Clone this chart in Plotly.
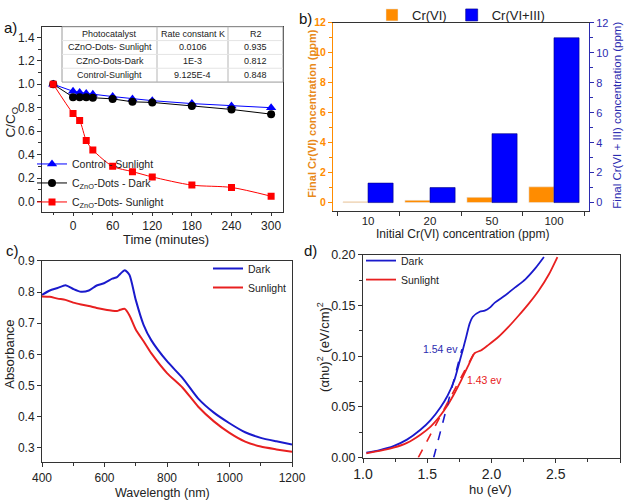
import plotly.graph_objects as go

W, H = 625, 502

# ---------------- Panel a data ----------------
time_min = [-30, 0, 10, 20, 30, 60, 90, 120, 180, 240, 300]
control_sun = [1.0, 0.94, 0.93, 0.92, 0.915, 0.895, 0.875, 0.86, 0.835, 0.815, 0.80]
dots_dark = [1.0, 0.89, 0.89, 0.89, 0.885, 0.875, 0.85, 0.845, 0.815, 0.785, 0.745]
dots_sun = [1.0, 0.75, 0.69, 0.52, 0.44, 0.30, 0.255, 0.21, 0.14, 0.12, 0.045]

table_header = ["Photocatalyst", "Rate constant K", "R2"]
table_catalyst = ["CZnO-Dots- Sunlight", "CZnO-Dots-Dark", "Control-Sunlight"]
table_k = ["0.0106", "1E-3", "9.125E-4"]
table_r2 = ["0.935", "0.812", "0.848"]

# ---------------- Panel b data ----------------
initial_conc = ["10", "20", "50", "100"]
cr6_final = [0.05, 0.15, 0.35, 1.05]
cr63_final = [1.3, 1.0, 4.6, 11.0]

# ---------------- Panel c data ----------------
wavelength = [400, 425, 450, 475, 500, 525, 550, 575, 600, 625, 640, 650, 665, 680,
              700, 725, 750, 800, 850, 900, 950, 1000, 1050, 1100, 1150, 1200]
abs_dark = [0.791, 0.805, 0.813, 0.822, 0.810, 0.801, 0.805, 0.821, 0.829, 0.843, 0.848,
            0.858, 0.870, 0.855, 0.775, 0.695, 0.645, 0.578, 0.524, 0.458, 0.413,
            0.379, 0.350, 0.332, 0.321, 0.311]
abs_sun = [0.786, 0.785, 0.779, 0.775, 0.766, 0.760, 0.755, 0.749, 0.744, 0.740, 0.739,
           0.743, 0.746, 0.725, 0.680, 0.642, 0.603, 0.540, 0.493, 0.432, 0.385,
           0.348, 0.320, 0.304, 0.295, 0.287]

# ---------------- Panel d data ----------------
hv_dark = [1.026, 1.13, 1.237, 1.342, 1.447, 1.526, 1.605, 1.658, 1.71, 1.75, 1.776,
           1.803, 1.829, 1.855, 1.908, 1.947, 1.987, 2.026, 2.105, 2.184, 2.263,
           2.342, 2.408]
tauc_dark = [0.0048, 0.0074, 0.0113, 0.0177, 0.0274, 0.037, 0.050, 0.061, 0.076, 0.094,
             0.106, 0.119, 0.132, 0.139, 0.144, 0.145, 0.148, 0.153, 0.160, 0.168,
             0.176, 0.187, 0.198]
hv_sun = [1.026, 1.13, 1.237, 1.342, 1.447, 1.526, 1.605, 1.658, 1.71, 1.763, 1.816,
          1.868, 1.921, 1.974, 2.053, 2.132, 2.21, 2.29, 2.368, 2.447, 2.513]
tauc_sun = [0.0042, 0.0065, 0.0097, 0.0145, 0.0226, 0.0306, 0.042, 0.0516, 0.063, 0.076,
            0.090, 0.103, 0.106, 0.111, 0.119, 0.129, 0.140, 0.152, 0.165, 0.181, 0.198]
fit_dark_x = [1.55, 1.77]
fit_dark_y = [0.0, 0.107]
fit_sun_x = [1.43, 1.86]
fit_sun_y = [0.0, 0.102]
gap_labels = ["1.54 ev", "1.43 ev"]


def px_x(p):
    return p / W


def px_y(p):
    return 1 - p / H


FONT = "Arial, Liberation Sans, sans-serif"
BLUE = "#0000FF"
RED = "#FF0000"
ORANGE = "#FF8C00"
DBLUE = "#2b2bb0"
TXT = "#222222"

fig = go.Figure()

# Panel a traces
fig.add_trace(go.Scatter(x=time_min, y=control_sun, mode="lines+markers", name="Control - Sunlight",
                         line=dict(color=BLUE, width=1),
                         marker=dict(symbol="triangle-up", size=9, color=BLUE),
                         xaxis="x", yaxis="y", legend="legend"))
fig.add_trace(go.Scatter(x=time_min, y=dots_dark, mode="lines+markers",
                         name="C<sub>ZnO</sub>-Dots - Dark",
                         line=dict(color="black", width=1),
                         marker=dict(symbol="circle", size=8, color="black"),
                         xaxis="x", yaxis="y", legend="legend"))
fig.add_trace(go.Scatter(x=time_min, y=dots_sun, mode="lines+markers",
                         name="C<sub>ZnO</sub>-Dots- Sunlight",
                         line=dict(color=RED, width=1, shape="spline", smoothing=0.8),
                         marker=dict(symbol="square", size=7, color=RED),
                         xaxis="x", yaxis="y", legend="legend"))

# Panel b traces
fig.add_trace(go.Bar(x=initial_conc, y=cr6_final, name="Cr(VI)", marker=dict(color=ORANGE),
                     offsetgroup="1", xaxis="x2", yaxis="y2", legend="legend2"))
fig.add_trace(go.Bar(x=initial_conc, y=cr63_final, name="Cr(VI+III)",
                     marker=dict(color=BLUE, line=dict(color="#000080", width=0.6)),
                     offsetgroup="2", xaxis="x2", yaxis="y3", legend="legend2"))

# Panel c traces
fig.add_trace(go.Scatter(x=wavelength, y=abs_dark, mode="lines", name="Dark",
                         line=dict(color="#1a1acc", width=2, shape="spline", smoothing=0.6),
                         xaxis="x3", yaxis="y4", legend="legend3"))
fig.add_trace(go.Scatter(x=wavelength, y=abs_sun, mode="lines", name="Sunlight",
                         line=dict(color="#e82020", width=2, shape="spline", smoothing=0.6),
                         xaxis="x3", yaxis="y4", legend="legend3"))

# Panel d traces
fig.add_trace(go.Scatter(x=hv_dark, y=tauc_dark, mode="lines", name="Dark",
                         line=dict(color="#1a1acc", width=1.8, shape="spline", smoothing=0.6),
                         xaxis="x4", yaxis="y5", legend="legend4"))
fig.add_trace(go.Scatter(x=hv_sun, y=tauc_sun, mode="lines", name="Sunlight",
                         line=dict(color="#e82020", width=1.8, shape="spline", smoothing=0.6),
                         xaxis="x4", yaxis="y5", legend="legend4"))
fig.add_trace(go.Scatter(x=fit_dark_x, y=fit_dark_y, mode="lines", showlegend=False,
                         line=dict(color="#1a1acc", width=1.6, dash="dash"),
                         xaxis="x4", yaxis="y5"))
fig.add_trace(go.Scatter(x=fit_sun_x, y=fit_sun_y, mode="lines", showlegend=False,
                         line=dict(color="#e82020", width=1.6, dash="dash"),
                         xaxis="x4", yaxis="y5"))


def tf(size, color=TXT, **kw):
    return dict(family=FONT, size=size, color=color, **kw)


def box_axis(**kw):
    d = dict(showline=True, linecolor="#333", linewidth=1, mirror=True, ticks="outside",
             ticklen=4, tickcolor="#333", showgrid=False, zeroline=False,
             tickfont=tf(12), automargin=False)
    d.update(kw)
    return d


fig.update_layout(
    width=W, height=H, margin=dict(l=0, r=0, t=0, b=0),
    paper_bgcolor="white", plot_bgcolor="white",
    font=dict(family=FONT, color=TXT),
    barmode="group", bargap=0.19, bargroupgap=0,
    # panel a
    xaxis=box_axis(domain=[px_x(42), px_x(283)], anchor="y", range=[-47, 318],
                   tickvals=[0, 60, 120, 180, 240, 300], tickfont=tf(12), ticklen=3,
                   minor=dict(tickvals=[-30, 30, 90, 150, 210, 270], ticks="outside", ticklen=2,
                              tickcolor="#333")),
    yaxis=box_axis(domain=[px_y(208), px_y(21)], anchor="x", range=[-0.085, 1.49],
                   tick0=0, dtick=0.2, tickformat=".1f", tickfont=tf(12),
                   minor=dict(dtick=0.1, tick0=0, ticks="outside", ticklen=3, tickcolor="#333")),
    # panel b
    xaxis2=dict(domain=[px_x(333), px_x(589)], anchor="y2", type="category",
                range=[-0.565, 3.565], showline=True, linecolor="#333", mirror=True,
                ticks="outside", tickson="boundaries", ticklen=4, tickcolor="#333",
                showgrid=False, tickfont=tf(11.5), automargin=False),
    yaxis2=dict(domain=[px_y(207), px_y(17)], anchor="x2", range=[-0.53, 12], dtick=2,
                showline=True, linecolor=ORANGE, linewidth=1, ticks="outside", ticklen=4,
                tickcolor=ORANGE, showgrid=False, zeroline=False, automargin=False,
                minor=dict(dtick=1, ticks="outside", ticklen=3, tickcolor=ORANGE),
                tickfont=tf(10.5, ORANGE, weight="bold")),
    yaxis3=dict(overlaying="y2", anchor="x2", side="right", range=[-0.53, 12], dtick=2,
                showline=True, linecolor=DBLUE, linewidth=1, ticks="outside", ticklen=4,
                tickcolor=DBLUE, showgrid=False, zeroline=False, automargin=False,
                minor=dict(dtick=1, ticks="outside", ticklen=3, tickcolor=DBLUE),
                tickfont=tf(11, DBLUE)),
    # panel c
    xaxis3=box_axis(domain=[px_x(42), px_x(292)], anchor="y4", range=[400, 1200],
                    dtick=200, tick0=400,
                    minor=dict(dtick=100, tick0=400, ticks="outside", ticklen=3, tickcolor="#333")),
    yaxis4=box_axis(domain=[px_y(462), px_y(258)], anchor="x3", range=[0.253, 0.9],
                    dtick=0.1, tick0=0.3, tickformat=".1f"),
    # panel d
    xaxis4=box_axis(domain=[px_x(363), px_x(620)], anchor="y5", range=[1, 3],
                    dtick=0.5, tick0=1, tickformat=".1f", tickfont=tf(14),
                    minor=dict(dtick=0.25, tick0=1, ticks="outside", ticklen=3, tickcolor="#333")),
    yaxis5=box_axis(domain=[px_y(457), px_y(252)], anchor="x4", range=[0, 0.2],
                    dtick=0.05, tick0=0, tickformat=".2f", tickfont=tf(12.5),
                    minor=dict(dtick=0.025, tick0=0, ticks="outside", ticklen=3, tickcolor="#333")),
    legend=dict(x=px_x(32), y=px_y(213), xanchor="left", yanchor="bottom",
                bgcolor="rgba(0,0,0,0)", font=tf(10.5), tracegroupgap=0, itemwidth=30),
    legend2=dict(x=px_x(372), y=px_y(9), xanchor="left", yanchor="middle", orientation="h",
                 bgcolor="rgba(0,0,0,0)", font=tf(13), itemwidth=30),
    legend3=dict(x=px_x(292), y=px_y(251), xanchor="right", yanchor="top",
                 bgcolor="rgba(0,0,0,0)", font=tf(10.5)),
    legend4=dict(x=px_x(361), y=px_y(243), xanchor="left", yanchor="top",
                 bgcolor="rgba(0,0,0,0)", font=tf(10.5)),
)

annotations = [
    dict(text="a)", x=px_x(2), y=px_y(22), xanchor="left", yanchor="middle"),
    dict(text="b)", x=px_x(297), y=px_y(13), xanchor="left", yanchor="middle"),
    dict(text="c)", x=px_x(4), y=px_y(247), xanchor="left", yanchor="middle"),
    dict(text="d)", x=px_x(302), y=px_y(247), xanchor="left", yanchor="middle"),
]
for a in annotations:
    a.update(xref="paper", yref="paper", showarrow=False, font=tf(15, "#111"))

# axis titles (placed as text at fixed positions)
axis_titles = [
    ("Time (minutes)", 166, 236, 0, tf(13)),
    ("C/C<sub>O</sub>", 12, 117, -90, tf(13.5)),
    ("Initial Cr(VI) concentration (ppm)", 462, 231, 0, tf(12)),
    ("<b>Final Cr(VI) concentration (ppm)</b>", 312, 109, -90, tf(11, "#E8891A")),
    ("Final Cr(VI + III) concentration (ppm)", 617, 111, -90, tf(11.5, DBLUE)),
    ("Wavelength (nm)", 163, 493, 0, tf(12.5)),
    ("Absorbance", 10, 353, -90, tf(13)),
    ("hυ (eV)", 490, 489, 0, tf(13)),
    ("(αhυ)<sup>2</sup> (eV/cm)<sup>2</sup>", 323, 345, -90, tf(13)),
]
for txt, ax_, ay_, ang, f in axis_titles:
    annotations.append(dict(text=txt, x=px_x(ax_), y=px_y(ay_), xref="paper", yref="paper",
                            xanchor="center", yanchor="middle", textangle=ang,
                            showarrow=False, font=f))

# ---- table in panel a (drawn with shapes + text) ----
col_edges = [62, 157, 228, 283]
row_edges = [21, 35, 49, 63, 77]
shapes = []
shapes.append(dict(type="rect", xref="paper", yref="paper",
                   x0=px_x(col_edges[0]), x1=px_x(col_edges[-1]),
                   y0=px_y(row_edges[-1]), y1=px_y(row_edges[0]),
                   line=dict(color="#9a9a9a", width=1), fillcolor="white", layer="above"))
for cx in col_edges[1:-1]:
    shapes.append(dict(type="line", xref="paper", yref="paper", x0=px_x(cx), x1=px_x(cx),
                       y0=px_y(row_edges[-1]), y1=px_y(row_edges[0]),
                       line=dict(color="#b5b5b5", width=1), layer="above"))
for ry in row_edges[1:-1]:
    shapes.append(dict(type="line", xref="paper", yref="paper",
                       x0=px_x(col_edges[0]), x1=px_x(col_edges[-1]),
                       y0=px_y(ry), y1=px_y(ry),
                       line=dict(color="#e4e4e4", width=1), layer="above"))
table_cols = [[table_header[0]] + table_catalyst,
              [table_header[1]] + table_k,
              [table_header[2]] + table_r2]
for ci, col in enumerate(table_cols):
    cxm = (col_edges[ci] + col_edges[ci + 1]) / 2
    for ri, txt in enumerate(col):
        rym = (row_edges[ri] + row_edges[ri + 1]) / 2
        annotations.append(dict(text=txt, x=px_x(cxm), y=px_y(rym), xref="paper", yref="paper",
                                xanchor="center", yanchor="middle", showarrow=False,
                                font=tf(9)))

fig.update_layout(annotations=annotations, shapes=shapes)
fig.add_annotation(text=gap_labels[0], x=1.605, y=0.107, xref="x4", yref="y5", showarrow=False,
                   font=tf(10.5, DBLUE))
fig.add_annotation(text=gap_labels[1], x=1.947, y=0.077, xref="x4", yref="y5", showarrow=False,
                   font=tf(10.5, "#e82020"))

fig.write_html("out.html", config={"displayModeBar": False},
               post_script="document.body.style.margin='0';"
               "document.body.style.overflow='hidden';")
